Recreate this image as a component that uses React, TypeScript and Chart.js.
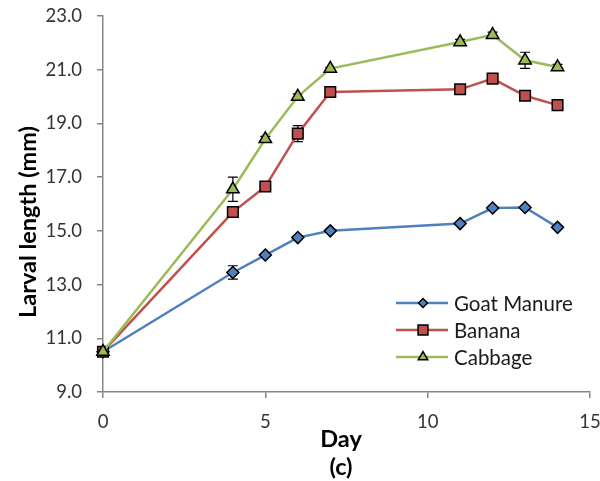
import React, { useEffect, useRef } from 'react';
import { Chart, registerables } from 'chart.js';
import { drawPoint } from 'chart.js/helpers';

Chart.register(...registerables);

const days = [0, 4, 5, 6, 7, 11, 12, 13, 14];
const goatManure = [10.5, 13.45, 14.1, 14.75, 15.0, 15.27, 15.85, 15.87, 15.13];
const goatManureErr = [0.05, 0.25, 0.05, 0.05, 0.05, 0.05, 0.05, 0.05, 0.05];
const banana = [10.5, 15.7, 16.65, 18.62, 20.17, 20.27, 20.67, 20.03, 19.68];
const bananaErr = [0.05, 0.15, 0.1, 0.3, 0.05, 0.1, 0.1, 0.1, 0.1];
const cabbage = [10.5, 16.55, 18.42, 20.0, 21.04, 22.03, 22.3, 21.35, 21.1];
const cabbageErr = [0.05, 0.45, 0.1, 0.1, 0.05, 0.1, 0.1, 0.3, 0.1];
const seriesNames = ['Goat Manure', 'Banana', 'Cabbage'];
const xTitle = 'Day';
const xSubTitle = '(c)';
const yTitle = 'Larval length (mm)';

const FONT = 'Lato, "Open Sans", sans-serif';

const errorBarPlugin = {
  id: 'errorBars',
  beforeDatasetsDraw(chart: any) {
    const { ctx, scales } = chart;
    const xs = scales.x;
    const ys = scales.y;
    ctx.save();
    ctx.strokeStyle = '#000';
    ctx.lineWidth = 1.2;
    chart.data.datasets.forEach((ds: any) => {
      ds.data.forEach((pt: any, i: number) => {
        const e = ds.errors[i];
        if (!e) return;
        const px = xs.getPixelForValue(pt.x);
        const top = ys.getPixelForValue(pt.y + e);
        const bot = ys.getPixelForValue(pt.y - e);
        ctx.beginPath();
        ctx.moveTo(px, top);
        ctx.lineTo(px, bot);
        ctx.moveTo(px - 5, top);
        ctx.lineTo(px + 5, top);
        ctx.moveTo(px - 5, bot);
        ctx.lineTo(px + 5, bot);
        ctx.stroke();
      });
    });
    ctx.restore();
  },
};

const legendPlugin = {
  id: 'customLegend',
  afterDraw(chart: any) {
    const { ctx } = chart;
    ctx.save();
    chart.data.datasets.forEach((ds: any, i: number) => {
      const y = 303 + i * 27;
      ctx.strokeStyle = ds.borderColor;
      ctx.lineWidth = ds.borderWidth;
      ctx.beginPath();
      ctx.moveTo(396, y);
      ctx.lineTo(448, y);
      ctx.stroke();
      ctx.fillStyle = ds.pointBackgroundColor;
      ctx.strokeStyle = ds.pointBorderColor;
      ctx.lineWidth = ds.pointBorderWidth;
      drawPoint(ctx, { pointStyle: ds.pointStyle, radius: ds.legendRadius, borderWidth: ds.pointBorderWidth, rotation: 0 }, 423, y);
      ctx.fillStyle = '#1a1a1a';
      ctx.font = `20.5px ${FONT}`;
      ctx.textAlign = 'left';
      ctx.textBaseline = 'middle';
      ctx.fillText(ds.label, 454, y + 1);
    });
    ctx.restore();
  },
};

const titlesPlugin = {
  id: 'axisTitles',
  afterDraw(chart: any) {
    const { ctx } = chart;
    ctx.save();
    ctx.fillStyle = '#000';
    ctx.font = `bold 23.5px ${FONT}`;
    ctx.textAlign = 'center';
    ctx.textBaseline = 'middle';
    ctx.fillText(xTitle, 341, 439);
    ctx.fillText(xSubTitle, 341, 467);
    ctx.translate(28, 222);
    ctx.rotate(-Math.PI / 2);
    ctx.fillText(yTitle, 0, 0);
    ctx.restore();
  },
};

function makeSeries(label: string, values: number[], errs: number[], color: string, style: string, radius: number, legendRadius: number, order: number) {
  return {
    label,
    data: days.map((d, i) => ({ x: d, y: values[i] })),
    errors: errs,
    legendRadius,
    borderColor: color,
    backgroundColor: color,
    borderWidth: 2.5,
    pointStyle: style,
    pointRadius: radius,
    pointHoverRadius: radius,
    pointBackgroundColor: color,
    pointBorderColor: '#000',
    pointBorderWidth: 1.5,
    tension: 0,
    clip: false,
    order,
  };
}

export default function App() {
  const ref = useRef<HTMLCanvasElement>(null);
  useEffect(() => {
    document.body.style.margin = '0';
    const chart = new Chart(ref.current as HTMLCanvasElement, {
      type: 'line',
      data: {
        datasets: [
          makeSeries(seriesNames[0], goatManure, goatManureErr, '#4F81BD', 'rectRot', 6, 4.5, 3),
          makeSeries(seriesNames[1], banana, bananaErr, '#C0504D', 'rect', 7.5, 7, 2),
          makeSeries(seriesNames[2], cabbage, cabbageErr, '#9BBB59', 'triangle', 7.2, 5.5, 1),
        ] as any,
      },
      options: {
        animation: false,
        responsive: false,
        devicePixelRatio: 1,
        layout: { padding: { top: 16, right: 10, left: 0, bottom: 0 } },
        plugins: { legend: { display: false }, tooltip: { enabled: false } },
        scales: {
          x: {
            type: 'linear',
            min: 0,
            max: 15,
            afterFit: (s: any) => { s.height = 89; s.paddingLeft = 0; s.paddingRight = 0; },
            ticks: { stepSize: 5, color: '#333', font: { family: FONT, size: 18.5 }, padding: 13, maxRotation: 0 },
            grid: { drawOnChartArea: false, tickLength: 6, color: '#868686', lineWidth: 1.5 },
            border: { color: '#868686', width: 1.5 },
          },
          y: {
            type: 'linear',
            min: 9,
            max: 23,
            afterFit: (s: any) => { s.width = 103; s.paddingTop = 0; s.paddingBottom = 0; },
            ticks: { stepSize: 2, color: '#333', font: { family: FONT, size: 18.5 }, padding: 15, callback: (v: any) => Number(v).toFixed(1) },
            grid: { drawOnChartArea: false, tickLength: 6, color: '#868686', lineWidth: 1.5 },
            border: { color: '#868686', width: 1.5 },
          },
        },
      },
      plugins: [errorBarPlugin, legendPlugin, titlesPlugin],
    });
    return () => chart.destroy();
  }, []);
  return (
    <div style={{ width: 600, height: 481, background: '#fff' }}>
      <canvas ref={ref} width={600} height={481} />
    </div>
  );
}
